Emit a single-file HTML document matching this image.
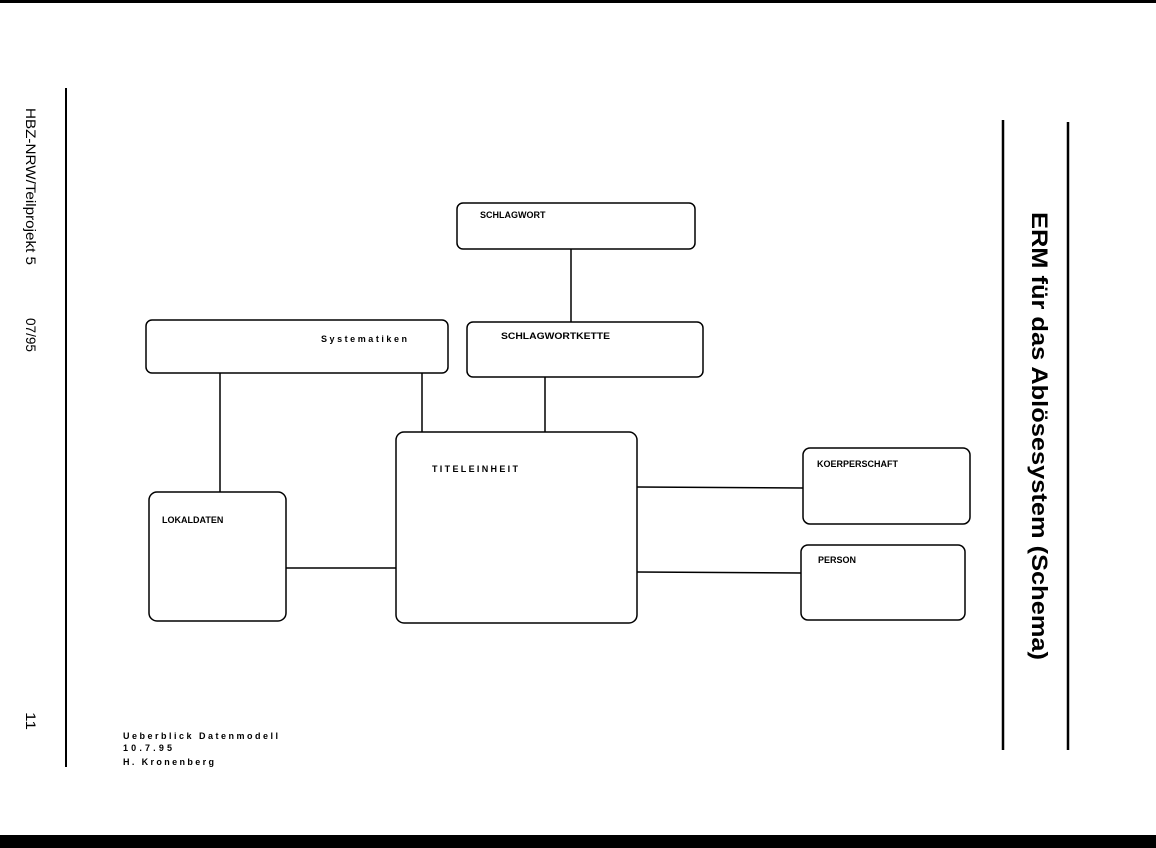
<!DOCTYPE html>
<html><head><meta charset="utf-8"><style>
html,body{margin:0;padding:0;background:#fff;}
svg{display:block}
text{font-family:"Liberation Sans",sans-serif;fill:#000}
</style></head><body>
<svg width="1156" height="848" viewBox="0 0 1156 848" xmlns="http://www.w3.org/2000/svg">
<rect x="0" y="0" width="1156" height="3" fill="#000"/>
<rect x="0" y="835" width="1156" height="13" fill="#000"/>
<line x1="66" y1="88" x2="66" y2="767" stroke="#000" stroke-width="2"/>
<line x1="1003" y1="120" x2="1003" y2="750" stroke="#000" stroke-width="2.5"/>
<line x1="1068" y1="122" x2="1068" y2="750" stroke="#000" stroke-width="2.5"/>
<g font-size="14">
<text transform="translate(26,108) rotate(90)" textLength="157" lengthAdjust="spacingAndGlyphs">HBZ-NRW/Teilprojekt 5</text>
<text transform="translate(26,318) rotate(90)" textLength="34" lengthAdjust="spacingAndGlyphs">07/95</text>
<text transform="translate(26,712) rotate(90)" textLength="18" lengthAdjust="spacingAndGlyphs">11</text>
</g>
<text transform="translate(1032,212) rotate(90)" font-size="22" font-weight="bold" textLength="448" lengthAdjust="spacingAndGlyphs">ERM für das Ablösesystem (Schema)</text>
<g fill="none" stroke="#000" stroke-width="1.5">
<rect x="457" y="203" width="238" height="46" rx="6"/>
<rect x="146" y="320" width="302" height="53" rx="6"/>
<rect x="467" y="322" width="236" height="55" rx="6"/>
<rect x="396" y="432" width="241" height="191" rx="8"/>
<rect x="149" y="492" width="137" height="129" rx="8"/>
<rect x="803" y="448" width="167" height="76" rx="7"/>
<rect x="801" y="545" width="164" height="75" rx="7"/>
<line x1="571" y1="249" x2="571" y2="322"/>
<line x1="220" y1="373" x2="220" y2="492"/>
<line x1="422" y1="373" x2="422" y2="432"/>
<line x1="545" y1="377" x2="545" y2="432"/>
<line x1="286" y1="568" x2="396" y2="568"/>
<line x1="637" y1="487" x2="803" y2="488"/>
<line x1="637" y1="572" x2="801" y2="573"/>
</g>
<g font-size="9" font-weight="bold">
<text x="480" y="218">SCHLAGWORT</text>
<text x="321" y="342" textLength="86" lengthAdjust="spacing">Systematiken</text>
<text x="501" y="339" textLength="109" lengthAdjust="spacingAndGlyphs">SCHLAGWORTKETTE</text>
<text x="432" y="472" textLength="86" lengthAdjust="spacing">TITELEINHEIT</text>
<text x="162" y="523">LOKALDATEN</text>
<text x="817" y="467">KOERPERSCHAFT</text>
<text x="818" y="563">PERSON</text>
<text x="123" y="739" textLength="155" lengthAdjust="spacing">Ueberblick Datenmodell</text>
<text x="123" y="751" textLength="49" lengthAdjust="spacing">10.7.95</text>
<text x="123" y="765" textLength="91" lengthAdjust="spacing">H. Kronenberg</text>
</g>
</svg>
</body></html>
